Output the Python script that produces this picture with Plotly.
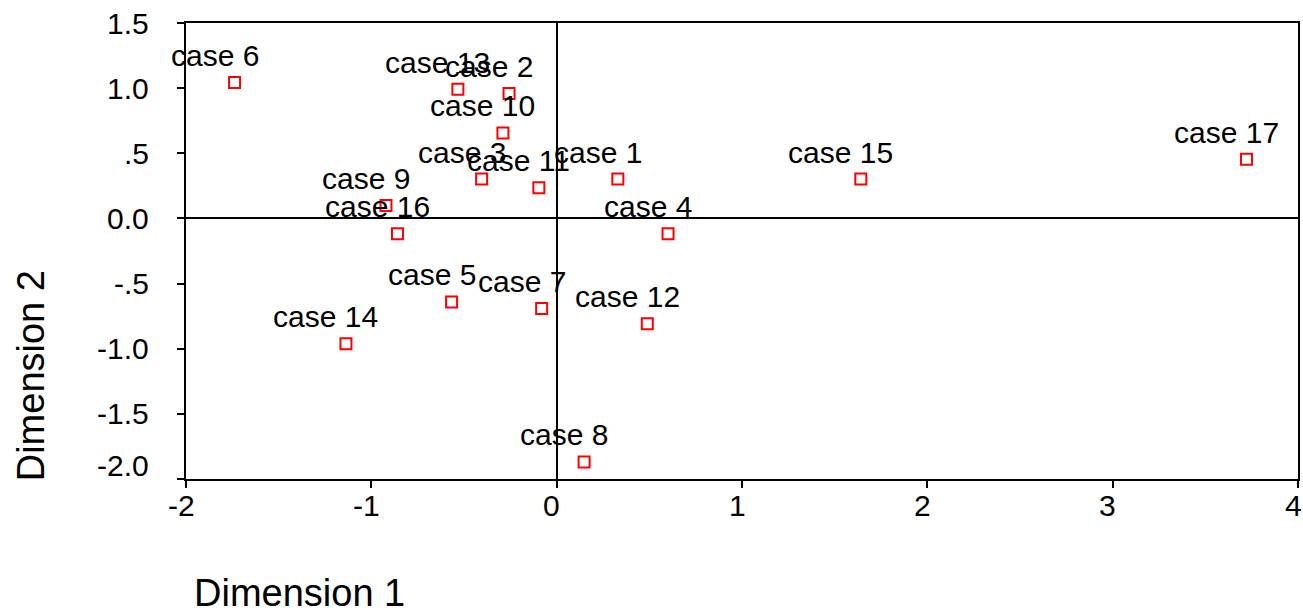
import plotly.graph_objects as go

# ---- data ----
case_labels = ["case 1", "case 2", "case 3", "case 4", "case 5", "case 6", "case 7", "case 8",
               "case 9", "case 10", "case 11", "case 12", "case 13", "case 14", "case 15",
               "case 16", "case 17"]
dim1 = [0.330, -0.257, -0.405, 0.601, -0.567, -1.738, -0.081, 0.148,
        -0.921, -0.290, -0.096, 0.489, -0.533, -1.137, 1.641, -0.859, 3.722]
dim2 = [0.302, 0.959, 0.302, -0.118, -0.641, 1.044, -0.692, -1.869,
        0.100, 0.656, 0.236, -0.808, 0.992, -0.962, 0.302, -0.118, 0.454]

x_tick_vals = [-2, -1, 0, 1, 2, 3, 4]
x_tick_text = ["-2", "-1", "0", "1", "2", "3", "4"]
y_tick_vals = [-2.0, -1.5, -1.0, -0.5, 0.0, 0.5, 1.0, 1.5]
y_tick_text = ["-2.0", "-1.5", "-1.0", "-.5", "0.0", ".5", "1.0", "1.5"]

FONT = "Liberation Sans, Arial, sans-serif"
LABEL_SIZE = 30
TITLE_SIZE = 38

fig = go.Figure()
fig.add_trace(go.Scatter(
    x=dim1, y=dim2, mode="markers",
    marker=dict(symbol="square-open", size=11, color="#ff0000",
                line=dict(color="#ff0000", width=2)),
    hoverinfo="text", text=case_labels, showlegend=False,
))

annotations = []
for lx, ly, lt in zip(dim1, dim2, case_labels):
    annotations.append(dict(x=lx, y=ly, text=lt, showarrow=False, xref="x", yref="y",
                            xanchor="center", yanchor="middle", xshift=-20, yshift=27,
                            font=dict(family=FONT, size=LABEL_SIZE, color="black")))

for v, t in zip(y_tick_vals, y_tick_text):
    annotations.append(dict(x=0, y=v, text=t, showarrow=False, xref="paper", yref="y",
                            xanchor="right", yanchor="middle", xshift=-35,
                            yshift=(14 if v == y_tick_vals[0] else 0),
                            font=dict(family=FONT, size=LABEL_SIZE, color="black")))

for v, t in zip(x_tick_vals, x_tick_text):
    annotations.append(dict(x=v, y=0, text=t, showarrow=False, xref="x", yref="paper",
                            xanchor="center", yanchor="middle", xshift=-5, yshift=-26,
                            font=dict(family=FONT, size=LABEL_SIZE, color="black")))

annotations.append(dict(x=0.1023, y=-0.2500, xref="paper", yref="paper", text="Dimension 1",
                        showarrow=False, xanchor="center", yanchor="middle",
                        font=dict(family=FONT, size=TITLE_SIZE, color="black")))
annotations.append(dict(x=-0.1391, y=0.226, xref="paper", yref="paper", text="Dimension 2",
                        showarrow=False, xanchor="center", yanchor="middle", textangle=-90,
                        font=dict(family=FONT, size=TITLE_SIZE, color="black")))

axis_common = dict(showline=True, linecolor="black", linewidth=2, mirror=True,
                   showgrid=False, zeroline=True, zerolinecolor="black", zerolinewidth=2,
                   ticks="outside", ticklen=7, tickwidth=2, tickcolor="black",
                   showticklabels=False)

fig.update_layout(
    width=1303, height=614,
    margin=dict(l=186, r=3, t=23, b=135),
    paper_bgcolor="white", plot_bgcolor="white",
    xaxis=dict(range=[-2, 4], tickvals=x_tick_vals, **axis_common),
    yaxis=dict(range=[-2, 1.5], tickvals=y_tick_vals, **axis_common),
    annotations=annotations,
    font=dict(family=FONT, color="black"),
)

fig.write_html("out.html")
